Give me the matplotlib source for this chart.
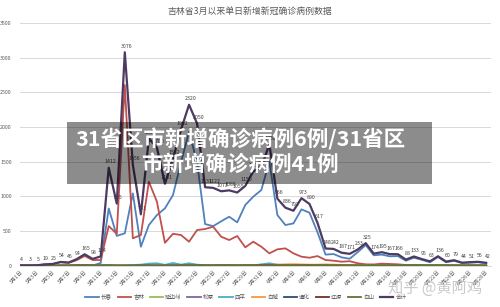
import numpy as np
import matplotlib.pyplot as plt
import pandas as pd
from matplotlib.patches import Rectangle

plt.rcParams['font.family'] = ['Noto Sans CJK SC', 'DejaVu Sans']

# dates 3/1 - 4/28
dates = pd.date_range('2022-03-01', '2022-04-28')
day_labels = [f'{d.month}月{d.day}日' for d in dates]

total = [4, 3, 5, 19, 25, 54, 46, 94, 165, 98,
         134, 1412, 895, 3076, 1456, 741, 1834, 1700, 1181, 1542,
         1962, 2320, 2050, 1131, 1122, 1073, 1086, 1055, 1150, 1360,
         1420, 1750, 966, 836, 792, 973, 890, 617, 248, 242,
         187, 171, 233, 325, 174, 195, 167, 166, 88, 133,
         95, 63, 136, 60, 79, 44, 51, 56, 42]
changchun = [0, 0, 0, 0, 0, 0, 0, 1, 3, 2,
             40, 825, 430, 467, 1043, 274, 586, 730, 827, 1018,
             1490, 1930, 1490, 600, 570, 640, 706, 625, 875, 995,
             1091, 1500, 730, 586, 610, 812, 764, 480, 160, 168,
             120, 100, 195, 298, 150, 160, 135, 139, 72, 115,
             85, 50, 125, 50, 70, 38, 44, 50, 36]
jilin = [4, 3, 5, 18, 22, 50, 40, 80, 140, 82,
         82, 571, 460, 2604, 395, 442, 1210, 922, 330, 460,
         442, 346, 514, 529, 562, 418, 370, 428, 265, 346,
         274, 178, 236, 250, 178, 130, 115, 139, 82, 72,
         58, 65, 35, 20, 18, 30, 25, 20, 10, 8,
         5, 3, 2, 1, 0, 0, 0, 0, 0]
yanbian = [0, 0, 0, 1, 2, 3, 5, 8, 10, 6,
           6, 8, 3, 2, 6, 8, 5, 6, 4, 8,
           6, 10, 5, 2, 3, 4, 3, 2, 3, 4,
           3, 5, 2, 1, 1, 2, 1, 0, 0, 0,
           0, 0, 0, 0, 0, 0, 0, 0, 0, 0,
           0, 0, 0, 0, 0, 0, 0, 0, 0]
songyuan = [0, 0, 0, 0, 0, 0, 0, 2, 4, 3,
            3, 2, 0, 1, 2, 3, 2, 1, 0, 2,
            1, 2, 0, 0, 1, 0, 1, 0, 0, 1,
            0, 0, 0, 0, 0, 0, 0, 0, 0, 0,
            0, 0, 0, 0, 0, 0, 0, 0, 0, 0,
            0, 0, 0, 0, 0, 0, 0, 0, 0]
siping = [0, 0, 0, 0, 0, 0, 0, 0, 5, 2,
          2, 5, 2, 3, 10, 15, 30, 35, 12, 40,
          15, 35, 15, 8, 6, 5, 4, 3, 4, 5,
          20, 35, 15, 6, 4, 8, 6, 3, 2, 1,
          1, 1, 1, 2, 1, 1, 1, 1, 1, 1,
          0, 0, 0, 0, 0, 0, 0, 0, 0]
baicheng = [0, 0, 0, 0, 0, 0, 0, 0, 0, 0,
            0, 0, 0, 0, 0, 0, 0, 0, 0, 0,
            0, 1, 2, 1, 2, 3, 2, 3, 5, 8,
            10, 12, 15, 20, 22, 18, 15, 15, 18, 15,
            12, 10, 8, 5, 4, 3, 3, 3, 2, 2,
            1, 1, 1, 1, 0, 0, 0, 0, 0]
tonghua = [0, 0, 0, 0, 0, 0, 0, 0, 0, 0,
           0, 1, 0, 0, 0, 1, 2, 1, 0, 1,
           2, 1, 3, 2, 1, 2, 3, 2, 3, 2,
           5, 4, 2, 3, 2, 4, 3, 2, 1, 0,
           0, 0, 0, 0, 0, 0, 0, 0, 0, 0,
           0, 0, 0, 0, 0, 0, 0, 0, 0]
liaoyuan = [0, 0, 0, 0, 0, 1, 1, 3, 3, 2,
            1, 1, 0, 0, 0, 1, 1, 0, 1, 1,
            1, 2, 1, 0, 1, 2, 2, 1, 1, 2,
            2, 3, 2, 1, 1, 2, 2, 1, 1, 1,
            0, 0, 0, 0, 0, 0, 0, 0, 0, 0,
            0, 0, 0, 0, 0, 0, 0, 0, 0]
baishan = [0, 0, 0, 0, 0, 0, 0, 0, 0, 0,
           0, 0, 0, 0, 0, 0, 0, 0, 0, 0,
           1, 1, 1, 1, 1, 1, 1, 1, 1, 1,
           1, 2, 2, 2, 2, 3, 4, 5, 6, 5,
           6, 5, 4, 5, 4, 5, 4, 4, 5, 6,
           6, 5, 5, 6, 5, 4, 5, 4, 4]

series = [('长春', changchun, '#4F81BD'),
          ('吉林', jilin, '#C0504D'),
          ('延边州', yanbian, '#9BBB59'),
          ('松原', songyuan, '#8064A2'),
          ('四平', siping, '#4BACC6'),
          ('白城', baicheng, '#F79646'),
          ('通化', tonghua, '#2C4D75'),
          ('辽源', liaoyuan, '#772C2A'),
          ('白山', baishan, '#5F7530'),
          ('合计', total, '#4D3B62')]

fig = plt.figure(figsize=(5, 3.07), dpi=100)
ax = fig.add_axes([0.04, 0.1345, 0.942, 0.791])

x = np.arange(len(dates))
for name, vals, col in series:
    lw = 1.6 if name == '合计' else 1.3
    ax.plot(x, vals, color=col, lw=lw, label=name)

# data labels on the total line
for xi, v in zip(x, total):
    ax.annotate(str(v), (xi, v), xytext=(1, 2.5), textcoords='offset points',
                ha='center', va='bottom', fontsize=3.8, color='#404040')

ax.set_ylim(0, 3500)
ax.set_xlim(-0.05, 58.6)
ax.set_yticks(np.arange(0, 3501, 500))
ax.set_xticks(x[::2])
ax.set_xticklabels(day_labels[::2], rotation=45, ha='right',
                   rotation_mode='anchor', fontsize=3.8, color='#595959')
ax.tick_params(axis='y', labelsize=3.8, labelcolor='#595959', length=0, pad=6)
ax.tick_params(axis='x', length=0, pad=3)
ax.grid(axis='y', color='#D9D9D9', lw=0.7)
ax.set_axisbelow(True)
for s in ['top', 'right', 'left']:
    ax.spines[s].set_visible(False)
ax.spines['bottom'].set_color('#D9D9D9')
ax.spines['bottom'].set_linewidth(0.7)

fig.text(0.5, 0.962, '吉林省3月以来单日新增新冠确诊病例数据', ha='center', va='center',
         fontsize=6.4, color='#595959')

fig.legend(loc='center', bbox_to_anchor=(0.492, 0.033), ncol=10, frameon=False,
           fontsize=4.0, handlelength=2.4, handletextpad=0.4, columnspacing=1.0,
           labelcolor='#595959')

# overlay banner
fig.add_artist(Rectangle((0.134, 0.4007), 0.73, 0.2019, transform=fig.transFigure,
                         facecolor='black', alpha=0.45, edgecolor='none'))
fig.text(0.48, 0.545, '31省区市新增确诊病例6例/31省区', ha='center', va='center',
         fontsize=15.5, fontweight='bold', color='white')
fig.text(0.48, 0.466, '市新增确诊病例41例', ha='center', va='center',
         fontsize=15.5, fontweight='bold', color='white')

# watermark
fig.text(0.87, 0.062, '知乎 @黄阿鸡', ha='center', va='center', fontsize=11,
         color='#c4c4c4', alpha=0.9)

fig.savefig('out.png', dpi=100)
